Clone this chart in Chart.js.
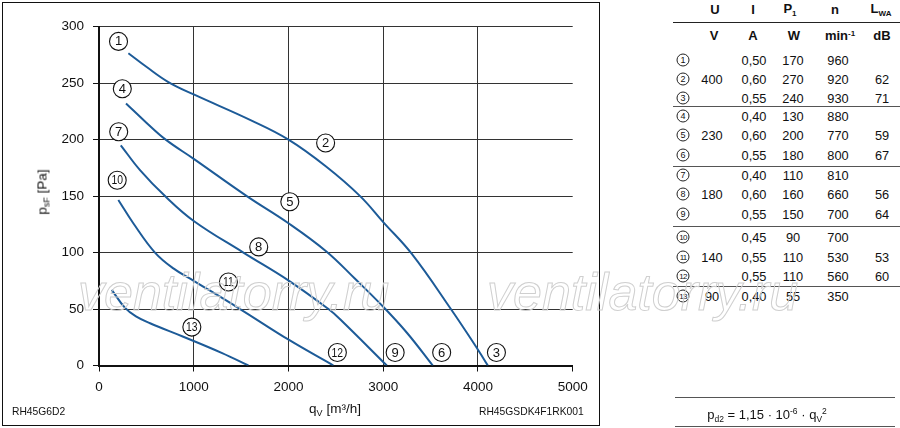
<!DOCTYPE html>
<html>
<head>
<meta charset="utf-8">
<script src="https://cdn.jsdelivr.net/npm/chart.js@4.4.1/dist/chart.umd.min.js"></script>
<style>
  html, body { margin: 0; padding: 0; background: #fff; }
  body { width: 900px; height: 428px; position: relative; overflow: hidden;
         font-family: "Liberation Sans", Arial, Helvetica, sans-serif; color: #111; }
  #box { position: absolute; left: 2px; top: 2px; width: 598px; height: 424px;
         box-sizing: border-box; border: 1px solid #111; }
  #chart { position: absolute; left: 0; top: 0; }
  .abs { position: absolute; white-space: nowrap; transform: translate(-50%, -50%); }
  .ttl { font-size: 13.5px; }
  .ttl sub { font-size: 9px; vertical-align: -3px; }
  .code { font-size: 10.3px; position: absolute; white-space: nowrap; }
  .cell { position: absolute; white-space: nowrap; transform: translate(-50%, -50%); font-size: 12.8px; }
  .hd { font-weight: bold; font-size: 13px; }
  .hd sub { font-size: 8px; vertical-align: -3px; }
  .hd sup { font-size: 8px; vertical-align: 4px; }
  .circ { position: absolute; width: 11px; height: 11px; border: 1px solid #222; border-radius: 50%;
          transform: translate(-50%, -50%); font-size: 9px; line-height: 11px; text-align: center; }
  .circ.two { font-size: 8px; letter-spacing: -0.8px; }
  .rule { position: absolute; height: 0; }
  .formula { font-size: 13px; }
  .formula sub, .formula sup { font-size: 8.5px; }
  .formula sub { vertical-align: -3px; }
  .formula sup { vertical-align: 5px; }
  .wm { position: absolute; font-style: italic; font-size: 52px; color: transparent;
        -webkit-text-stroke: 1px #cfcfcf; white-space: nowrap; pointer-events: none; line-height: 1; }
</style>
</head>
<body>
<div id="box"></div>
<canvas id="chart" width="600" height="428"></canvas>

<div class="abs ttl" style="left:43px; top:192px; transform: translate(-50%,-50%) rotate(-90deg);">p<sub>sF</sub> [Pa]</div>
<div class="abs ttl" style="left:335px; top:409px;">q<sub>V</sub> [m³/h]</div>
<div class="code" style="left:12px; top:406px;">RH45G6D2</div>
<div class="code" style="left:479px; top:406px;">RH45GSDK4F1RK001</div>

<div id="table"></div>

<div class="rule" style="left:675px; width:220px; top:397px; border-top:1px solid #555;"></div>
<div class="abs formula" style="left:767px; top:415px;">p<sub>d2</sub> = 1,15 · 10<sup>-6</sup> · q<sub>V</sub><sup>2</sup></div>
<div class="rule" style="left:675px; width:220px; top:426px; border-top:1px solid #555;"></div>

<div class="wm" style="left:78px; top:266px;">ventilatorry.ru</div>
<div class="wm" style="left:487px; top:266px;">ventilatorry.ru</div>

<script>
// curve data, q_V in m3/h and p_sF in Pa
const q400 = [310, 500, 732, 1000, 1594, 2000, 2400, 2756, 3000, 3300, 3714, 4000, 4104];
const p400 = [276.5, 264.5, 251, 240, 217.5, 200, 176, 150, 127, 99, 50, 14, 0];

const q230 = [285, 500, 704, 1000, 1560, 2000, 2400, 2700, 3000, 3250, 3523];
const p230 = [232, 215, 200, 183, 150, 126, 101, 77, 52, 29, 0];

const q180 = [230, 433, 697, 1000, 1524, 2006, 2422, 2545, 3038];
const p180 = [195, 173, 150, 128, 100, 75, 50, 41, 0];

const q140 = [204, 362, 591, 785, 1000, 1489, 2006, 2474];
const p140 = [146.6, 126, 100, 86, 75, 50, 22.6, 0];

const q90 = [134, 275, 390, 539, 890, 1300, 1577];
const p90 = [67, 51, 43.5, 37.4, 25.5, 11, 0];

// numbered operating point markers
const markNo = [1, 4, 7, 10, 13, 2, 5, 8, 11, 12, 9, 6, 3];
const markQ = [206, 246, 208, 192, 980, 2392, 2014, 1686, 1366, 2516, 3126, 3617, 4195];
const markP = [287, 245, 207, 164, 34, 197, 145, 105, 74, 11.5, 11.5, 11.5, 11.5];

// table on the right
const tabU = ['', '400', '', '', '230', '', '', '180', '', '', '140', '', '90'];
const tabI = ['0,50', '0,60', '0,55', '0,40', '0,60', '0,55', '0,40', '0,60', '0,55', '0,45', '0,55', '0,55', '0,40'];
const tabP = ['170', '270', '240', '130', '200', '180', '110', '160', '150', '90', '110', '110', '55'];
const tabN = ['960', '920', '930', '880', '770', '800', '810', '660', '700', '700', '530', '560', '350'];
const tabL = ['', '62', '71', '', '59', '67', '', '56', '64', '', '53', '60', ''];

const FONT = '"Liberation Sans", Arial, Helvetica, sans-serif';
const BLUE = '#1d5b98';

function pts(qs, ps) {
    return qs.map((q, i) => ({x: q, y: ps[i]}));
}

function curve(qs, ps) {
    return {
        data: pts(qs, ps),
        borderColor: BLUE,
        borderWidth: 2,
        pointRadius: 0,
        tension: 0.4,
        fill: false
    };
}

// circles with numbers on the curves
const markPlugin = {
    id: 'marks',
    afterDatasetsDraw(chart) {
        const ctx = chart.ctx;
        const xs = chart.scales.x, ys = chart.scales.y;
        ctx.save();
        markNo.forEach((n, i) => {
            const px = xs.getPixelForValue(markQ[i]);
            const py = ys.getPixelForValue(markP[i]);
            ctx.beginPath();
            ctx.arc(px, py, 9, 0, Math.PI * 2);
            ctx.fillStyle = '#fff';
            ctx.fill();
            ctx.lineWidth = 1.1;
            ctx.strokeStyle = '#111';
            ctx.stroke();
            ctx.fillStyle = '#111';
            ctx.textAlign = 'center';
            ctx.textBaseline = 'middle';
            ctx.save();
            ctx.translate(px, py + 0.5);
            if (n >= 10) ctx.scale(0.8, 1);
            ctx.font = '13px ' + FONT;
            ctx.fillText(String(n), 0, 0);
            ctx.restore();
        });
        ctx.restore();
    }
};

new Chart(document.getElementById('chart'), {
    type: 'line',
    data: {
        datasets: [
            curve(q400, p400),
            curve(q230, p230),
            curve(q180, p180),
            curve(q140, p140),
            curve(q90, p90)
        ]
    },
    options: {
        responsive: false,
        animation: false,
        layout: {padding: {top: 26.7, right: 27.3, left: 0, bottom: 0}},
        plugins: {
            legend: {display: false},
            tooltip: {enabled: false}
        },
        scales: {
            x: {
                type: 'linear',
                min: 0,
                max: 5000,
                afterFit: function(s) { s.height = 62.5; },
                ticks: {stepSize: 1000, color: '#111', padding: 8, maxRotation: 0,
                        font: {family: FONT, size: 13.5},
                        callback: function(v) { return String(v); }},
                grid: {
                    color: function(c) {
                        const v = c.tick ? c.tick.value : -1;
                        return (v === 0 || v === 5000) ? 'rgba(0,0,0,0)' : '#333';
                    },
                    tickColor: '#111',
                    tickLength: 6,
                    lineWidth: 1
                },
                border: {color: '#111', width: 2}
            },
            y: {
                type: 'linear',
                min: 0,
                max: 300,
                afterFit: function(s) { s.width = 99; },
                ticks: {stepSize: 50, color: '#111', padding: 9,
                        font: {family: FONT, size: 13.5},
                        callback: function(v) { return String(v); }},
                grid: {
                    color: function(c) {
                        const v = c.tick ? c.tick.value : -1;
                        return v === 0 ? 'rgba(0,0,0,0)' : '#333';
                    },
                    tickColor: '#111',
                    tickLength: 6,
                    lineWidth: 1
                },
                border: {color: '#111', width: 2}
            }
        }
    },
    plugins: [markPlugin]
});

// TABLE
const table = document.getElementById('table');
const colX = [683, 712, 754, 793, 838, 882];
const rowY = [60, 79, 97.5, 116, 135, 155, 175, 194, 213.5, 237, 256.5, 276, 295.5];

function cell(txt, x, y, cls) {
    const d = document.createElement('div');
    d.className = cls || 'cell';
    d.style.left = x + 'px';
    d.style.top = y + 'px';
    d.innerHTML = txt;
    table.appendChild(d);
    return d;
}

function rule(y, color) {
    const d = document.createElement('div');
    d.className = 'rule';
    d.style.left = '673px';
    d.style.width = '227px';
    d.style.top = y + 'px';
    d.style.borderTop = '1px solid ' + color;
    table.appendChild(d);
}

cell('U', 715, 8.5, 'cell hd');
cell('I', 753, 8.5, 'cell hd');
cell('P<sub>1</sub>', 790, 8.5, 'cell hd');
cell('n', 835, 8.5, 'cell hd');
cell('L<sub>WA</sub>', 881, 8.5, 'cell hd');
rule(22, '#222');
cell('V', 714, 34.5, 'cell hd');
cell('A', 753, 34.5, 'cell hd');
cell('W', 794, 34.5, 'cell hd');
cell('min<sup>-1</sup>', 840, 34.5, 'cell hd');
cell('dB', 882, 34.5, 'cell hd');

rowY.forEach((y, i) => {
    const c = document.createElement('div');
    c.className = 'circ' + (i >= 9 ? ' two' : '');
    c.style.left = colX[0] + 'px';
    c.style.top = y + 'px';
    c.textContent = String(i + 1);
    table.appendChild(c);
    if (tabU[i]) cell(tabU[i], colX[1], y);
    cell(tabI[i], colX[2], y);
    cell(tabP[i], colX[3], y);
    cell(tabN[i], colX[4], y);
    if (tabL[i]) cell(tabL[i], colX[5], y);
});

rule(106, '#555');
rule(165.5, '#555');
rule(226, '#555');
rule(286, '#555');
</script>
</body>
</html>
